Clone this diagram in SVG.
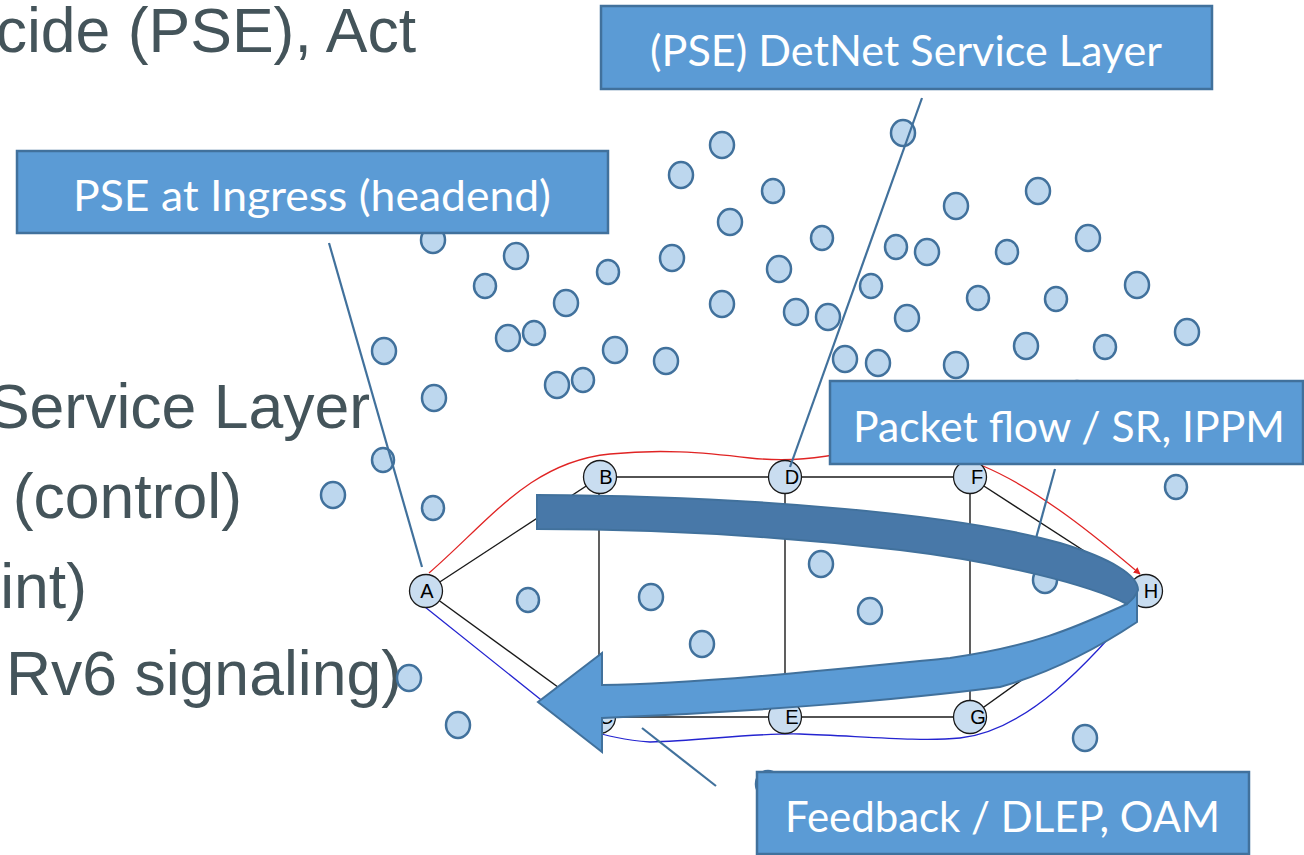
<svg xmlns="http://www.w3.org/2000/svg" width="1304" height="855" viewBox="0 0 1304 855">
  <style>
    .bg { font-family: "Liberation Sans", Arial, sans-serif; font-size: 62.5px; fill: #44545a; text-anchor: end; }
    .dot { fill: #bdd7ee; stroke: #41719c; stroke-width: 2.5; }
    .edge { stroke: #1a1a1a; stroke-width: 1.4; fill: none; }
    .node circle { fill: #c9ddf0; stroke: #1a1a1a; stroke-width: 1.3; }
    .node text { font-family: "Liberation Sans", Arial, sans-serif; font-size: 20px; fill: #000; text-anchor: middle; }
    .callout { stroke: #41719c; stroke-width: 2.2; fill: none; }
    .box rect { fill: #5b9bd5; stroke: #41719c; stroke-width: 2.5; }
    .box text { font-family: Lato, "Open Sans", sans-serif; font-size: 42px; fill: #ffffff; }
  </style>
  <defs>
    <marker id="redhead" viewBox="0 0 10 10" refX="9" refY="5" markerWidth="7" markerHeight="7" markerUnits="userSpaceOnUse" orient="auto">
      <path d="M0,0 L10,5 L0,10 Z" fill="#e02424"/>
    </marker>
  </defs>
  <rect width="1304" height="855" fill="#ffffff"/>

  <!-- slide body text, partly off the left edge -->
  <g id="body-text">
    <text class="bg" x="416" y="52">cide (PSE), Act</text>
    <text class="bg" x="370" y="428">Service Layer</text>
    <text class="bg" x="242" y="518">(control)</text>
    <text class="bg" x="87" y="608">int)</text>
    <text class="bg" x="402" y="695">Rv6 signaling)</text>
  </g>

  <!-- scattered radio nodes -->
  <g id="scatter">
    <ellipse class="dot" cx="722" cy="145" rx="12" ry="13"/>
    <ellipse class="dot" cx="681" cy="175" rx="12" ry="13"/>
    <ellipse class="dot" cx="773" cy="191" rx="11" ry="12"/>
    <ellipse class="dot" cx="730" cy="222" rx="12" ry="13"/>
    <ellipse class="dot" cx="822" cy="238" rx="11" ry="12"/>
    <ellipse class="dot" cx="433" cy="240" rx="12" ry="13"/>
    <ellipse class="dot" cx="516" cy="256" rx="12" ry="13"/>
    <ellipse class="dot" cx="485" cy="286" rx="11" ry="12"/>
    <ellipse class="dot" cx="608" cy="272" rx="11" ry="12"/>
    <ellipse class="dot" cx="672" cy="258" rx="12" ry="13"/>
    <ellipse class="dot" cx="779" cy="269" rx="12" ry="13"/>
    <ellipse class="dot" cx="566" cy="303" rx="12" ry="13"/>
    <ellipse class="dot" cx="722" cy="304" rx="12" ry="13"/>
    <ellipse class="dot" cx="796" cy="312" rx="12" ry="13"/>
    <ellipse class="dot" cx="828" cy="317" rx="12" ry="13"/>
    <ellipse class="dot" cx="508" cy="338" rx="12" ry="13"/>
    <ellipse class="dot" cx="534" cy="333" rx="11" ry="12"/>
    <ellipse class="dot" cx="615" cy="350" rx="12" ry="13"/>
    <ellipse class="dot" cx="666" cy="361" rx="12" ry="13"/>
    <ellipse class="dot" cx="557" cy="385" rx="12" ry="13"/>
    <ellipse class="dot" cx="583" cy="380" rx="11" ry="12"/>
    <ellipse class="dot" cx="903" cy="133" rx="12" ry="13"/>
    <ellipse class="dot" cx="956" cy="206" rx="12" ry="13"/>
    <ellipse class="dot" cx="1038" cy="191" rx="12" ry="13"/>
    <ellipse class="dot" cx="896" cy="247" rx="11" ry="12"/>
    <ellipse class="dot" cx="927" cy="252" rx="12" ry="13"/>
    <ellipse class="dot" cx="1007" cy="252" rx="11" ry="12"/>
    <ellipse class="dot" cx="1088" cy="238" rx="12" ry="13"/>
    <ellipse class="dot" cx="871" cy="286" rx="11" ry="12"/>
    <ellipse class="dot" cx="978" cy="298" rx="11" ry="12"/>
    <ellipse class="dot" cx="1056" cy="299" rx="11" ry="12"/>
    <ellipse class="dot" cx="1137" cy="285" rx="12" ry="13"/>
    <ellipse class="dot" cx="907" cy="318" rx="12" ry="13"/>
    <ellipse class="dot" cx="1026" cy="346" rx="12" ry="13"/>
    <ellipse class="dot" cx="1105" cy="347" rx="11" ry="12"/>
    <ellipse class="dot" cx="1187" cy="332" rx="12" ry="13"/>
    <ellipse class="dot" cx="845" cy="359" rx="12" ry="13"/>
    <ellipse class="dot" cx="878" cy="363" rx="12" ry="13"/>
    <ellipse class="dot" cx="956" cy="365" rx="12" ry="13"/>
    <ellipse class="dot" cx="1077" cy="394" rx="12" ry="13"/>
    <ellipse class="dot" cx="384" cy="351" rx="12" ry="13"/>
    <ellipse class="dot" cx="434" cy="398" rx="12" ry="13"/>
    <ellipse class="dot" cx="383" cy="460" rx="11" ry="12"/>
    <ellipse class="dot" cx="433" cy="508" rx="11" ry="12"/>
    <ellipse class="dot" cx="333" cy="495" rx="12" ry="13"/>
    <ellipse class="dot" cx="1176" cy="487" rx="11" ry="12"/>
    <ellipse class="dot" cx="821" cy="564" rx="12" ry="13"/>
    <ellipse class="dot" cx="870" cy="611" rx="12" ry="13"/>
    <ellipse class="dot" cx="651" cy="597" rx="12" ry="13"/>
    <ellipse class="dot" cx="528" cy="600" rx="11" ry="12"/>
    <ellipse class="dot" cx="702" cy="644" rx="12" ry="13"/>
    <ellipse class="dot" cx="1045" cy="580" rx="12" ry="13"/>
    <ellipse class="dot" cx="409" cy="678" rx="12" ry="13"/>
    <ellipse class="dot" cx="458" cy="725" rx="12" ry="13"/>
    <ellipse class="dot" cx="1085" cy="738" rx="12" ry="13"/>
    <ellipse class="dot" cx="768" cy="784" rx="12" ry="13"/>
  </g>

  <!-- mesh links and the two paths across it -->
  <g id="connectors">
    <line class="edge" x1="426" y1="591" x2="600" y2="477"/>
    <line class="edge" x1="426" y1="591" x2="599" y2="717"/>
    <line class="edge" x1="600" y1="477" x2="970" y2="477"/>
    <line class="edge" x1="599" y1="717" x2="970" y2="717"/>
    <line class="edge" x1="599" y1="477" x2="599" y2="717"/>
    <line class="edge" x1="785" y1="477" x2="785" y2="717"/>
    <line class="edge" x1="970" y1="477" x2="970" y2="717"/>
    <line class="edge" x1="970" y1="477" x2="1146" y2="591"/>
    <line class="edge" x1="970" y1="717" x2="1146" y2="591"/>
    <path d="M 429 573 C 490 520, 530 462, 610 454 C 660 449, 700 452, 750 458 C 790 462, 820 458, 850 452 C 900 447, 950 455, 983 466 C 1040 490, 1100 540, 1140 574" fill="none" stroke="#e02424" stroke-width="1.3" marker-end="url(#redhead)"/>
    <path d="M 425 607 L 545 703 C 575 727, 600 738, 650 742 C 700 741, 750 733, 800 734 C 860 736, 920 742, 960 738 C 1030 730, 1090 660, 1138 605" fill="none" stroke="#2424d0" stroke-width="1.3"/>
  </g>

  <g id="node-A" class="node"><circle cx="426" cy="591" r="16.5"/><text x="427" y="598">A</text></g>
  <g id="node-B" class="node"><circle cx="600" cy="477" r="16.5"/><text x="606" y="484">B</text></g>
  <g id="node-C" class="node"><circle cx="599" cy="717" r="16.5"/><text x="606" y="724">C</text></g>
  <g id="node-D" class="node"><circle cx="785" cy="477" r="16.5"/><text x="792" y="484">D</text></g>
  <g id="node-E" class="node"><circle cx="785" cy="717" r="16.5"/><text x="792" y="724">E</text></g>
  <g id="node-F" class="node"><circle cx="970" cy="477" r="16.5"/><text x="977" y="484">F</text></g>
  <g id="node-G" class="node"><circle cx="970" cy="717" r="16.5"/><text x="978" y="724">G</text></g>
  <g id="node-H" class="node"><circle cx="1146" cy="591" r="16.5"/><text x="1151" y="598">H</text></g>

  <!-- leader lines from the labels -->
  <g id="callouts">
    <line class="callout" x1="329" y1="243" x2="422" y2="567"/>
    <line class="callout" x1="922" y1="98" x2="790" y2="467"/>
    <line class="callout" x1="1055" y1="469" x2="1030" y2="560"/>
    <line class="callout" x1="642" y1="728" x2="716" y2="786"/>
  </g>

  <!-- U-turn flow arrow -->
  <g id="uturn">
    <path d="M 602 685 L 602 653 L 538 702 L 602 752 L 602 718 C 750 712, 900 700, 1000 687 C 1060 670, 1110 640, 1137 622 L 1137 590 L 1127 604 C 1080 625, 1040 645, 950 658 C 850 668, 700 684, 602 685 Z" fill="#5b9bd5" stroke="#41719c" stroke-width="2" stroke-linejoin="miter"/>
    <path d="M 537 495 C 760 496, 960 515, 1060 543 C 1110 558, 1138 575, 1138 590 C 1136 596, 1132 600, 1127 604 C 1090 585, 1000 562, 900 550 C 780 536, 660 529, 537 529 Z" fill="#4878a8" stroke="#41719c" stroke-width="2"/>
  </g>

  <g id="label-service" class="box">
    <rect x="601" y="6" width="611" height="83"/>
    <text x="650" y="66" textLength="512" lengthAdjust="spacingAndGlyphs">(PSE) DetNet Service Layer</text>
  </g>
  <g id="label-ingress" class="box">
    <rect x="17" y="151" width="591" height="82"/>
    <text x="73" y="211" textLength="478" lengthAdjust="spacingAndGlyphs">PSE at Ingress (headend)</text>
  </g>
  <g id="label-flow" class="box">
    <rect x="830" y="381" width="473" height="83"/>
    <text x="853" y="442" textLength="432" lengthAdjust="spacingAndGlyphs">Packet flow / SR, IPPM</text>
  </g>
  <g id="label-feedback" class="box">
    <rect x="757" y="772" width="492" height="82"/>
    <text x="785" y="832" textLength="435" lengthAdjust="spacingAndGlyphs">Feedback / DLEP, OAM</text>
  </g>
</svg>
